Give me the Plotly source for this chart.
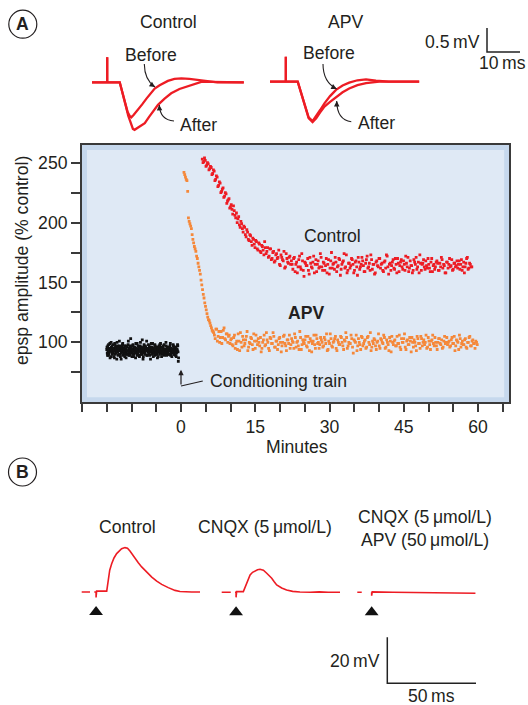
import plotly.graph_objects as go

W, H = 528, 705
FONT = "Liberation Sans, Arial, Helvetica, sans-serif"
FS = 17.6
TXT = "#231f20"
RED = "#ed1c24"
ORANGE = "#f5883a"

# ---------------- DATA ----------------
# Panel A (bottom): epsp amplitude (% control) vs. time (minutes); two interleaved sweep sets
baseline_t0, baseline_dt = -15.0, 0.104
baseline_vals = [
    94, 91, 97, 89, 95, 92, 99, 93, 88, 96, 94, 90, 98, 92, 95, 87, 93, 97, 91, 94,
    100, 92, 89, 95, 93, 97, 90, 94, 86, 96, 92, 99, 93, 91, 95, 88, 94, 97, 92, 90,
    96, 93, 101, 89, 94, 91, 97, 93, 95, 88, 92, 98, 94, 90, 96, 93, 87, 95, 92, 99,
    91, 94, 96, 89, 93, 97, 92, 95, 90, 102, 93, 88, 96, 94, 91, 97, 93, 95, 89, 94,
    92, 98, 90, 95, 93, 86, 96, 92, 94, 99, 91, 95, 93, 89, 97, 92, 94, 90, 96, 93,
    88, 95, 92, 98, 94, 91, 96, 93, 90, 95, 97, 92, 89, 94, 93, 100, 91, 95, 92, 96,
    90, 94, 93, 97, 89, 95, 92, 94, 91, 98, 93, 90, 96, 92, 95, 88, 94, 93, 97, 84,
]
baseline_t0_b = -14.95
baseline_vals_b = [
    96, 89, 93, 98, 90, 95, 87, 94, 100, 92, 97, 91, 95, 88, 93, 99, 90, 96, 94, 86,
    92, 97, 95, 90, 101, 93, 88, 96, 91, 94, 98, 89, 95, 92, 97, 90, 94, 87, 96, 93,
    90, 98, 92, 95, 89, 96, 103, 91, 94, 97, 90, 93, 88, 96, 92, 95, 99, 91, 94, 89,
    97, 92, 95, 88, 93, 100, 90, 96, 94, 91, 86, 95, 98, 92, 90, 96, 93, 101, 89, 94,
    95, 91, 97, 89, 94, 92, 99, 90, 96, 93, 88, 95, 91, 98, 94, 90, 96, 92, 87, 95,
    93, 97, 90, 94, 99, 92, 88, 96, 91, 95, 93, 98, 90, 94, 92, 97, 89, 95, 91, 94,
    96, 90, 93, 99, 91, 95, 88, 94, 92, 97, 90, 95, 93, 89, 96, 91, 94, 98, 92, 87,
]
control_t0, control_dt = 4.3, 0.3
control_vals = [
    253, 251, 252, 248, 249, 245, 246, 241, 243, 236, 238, 231, 233, 226, 229, 222, 224, 218, 220, 213,
    211, 214, 206, 208, 203, 198, 201, 195, 197, 190, 194, 186, 190, 184, 187, 182, 185, 178, 183, 176,
    181, 177, 184, 174, 179, 172, 178, 170, 176, 168, 174, 171, 165, 173, 169, 176, 163, 170, 166, 172,
    168, 161, 171, 165, 158, 169, 163, 174, 160, 167, 164, 170, 157, 166, 162, 172, 165, 159, 168, 163,
    171, 160, 166, 164, 158, 169, 162, 175, 165, 161, 167, 163, 170, 156, 165, 168, 162, 173, 160, 166,
    164, 169, 158, 167, 163, 171, 161, 165, 168, 159, 166, 172, 163, 160, 169, 165, 157, 167, 164, 170,
    162, 166, 159, 168, 173, 163, 165, 160, 167, 162, 170, 158, 166, 164, 169, 161, 165, 172, 163, 159,
    168, 164, 160, 167, 171, 163, 158, 166, 165, 169, 161, 164, 170, 162, 167, 159, 165, 163, 168, 160,
    166, 171, 162, 164, 158, 167, 165, 163, 169, 161, 166, 164, 162, 168, 165, 160, 167, 163, 170, 161,
    166, 163,
]
control_t0_b = 4.45
control_vals_b = [
    250, 254, 247, 250, 244, 247, 240, 244, 235, 239, 230, 234, 225, 228, 221, 225, 216, 219, 212, 215,
    207, 210, 204, 200, 205, 196, 199, 192, 196, 188, 192, 185, 189, 181, 186, 179, 184, 177, 182, 175,
    180, 173, 179, 176, 171, 178, 169, 175, 167, 173, 170, 177, 164, 171, 168, 162, 174, 167, 171, 165,
    165, 170, 159, 167, 163, 172, 161, 168, 155, 166, 164, 160, 171, 163, 167, 158, 169, 165, 162, 174,
    163, 167, 160, 170, 165, 157, 168, 162, 166, 171, 159, 164, 169, 161, 167, 174, 163, 158, 166, 162,
    170, 165, 160, 168, 156, 167, 163, 171, 164, 159, 169, 162, 166, 173, 161, 165, 158, 168, 163, 170,
    165, 160, 167, 162, 172, 157, 166, 164, 169, 161, 165, 170, 159, 167, 163, 168, 160, 166, 171, 162,
    164, 158, 169, 165, 161, 167, 173, 160, 166, 163, 168, 162, 165, 159, 170, 164, 161, 167, 166, 160,
    163, 169, 165, 158, 167, 162, 170, 164, 160, 166, 163, 168, 165, 161, 169, 163, 158, 166, 171, 162,
    165, 163,
]
apv_t0, apv_dt = 0.6, 0.3
apv_vals = [
    242, 238, 235, 204, 199, 195, 186, 180, 176, 170, 163, 157, 148, 140, 133, 127, 121, 118, 114, 110,
    108, 103, 111, 105, 100, 109, 104, 112, 102, 107, 105, 99,
    103, 97, 106, 99, 94, 101, 108, 96, 102, 99, 105, 93, 100, 104, 98, 107, 95, 101, 103, 97,
    92, 100, 106, 98, 102, 95, 104, 99, 108, 96, 101, 94, 103, 100, 97, 105, 99, 93, 102, 106,
    98, 101, 95, 104, 100, 97, 109, 94, 102, 99, 105, 96, 100, 103, 92, 101, 98, 106, 99, 95,
    104, 100, 97, 102, 107, 94, 99, 103, 96, 101, 105, 93, 100, 98, 104, 97, 102, 108, 95, 100,
    99, 103, 91, 101, 106, 97, 100, 94, 104, 99, 102, 96, 105, 98, 93, 101, 103, 97, 100, 107,
    95, 102, 99, 104, 96, 100, 93, 101, 105, 98, 102, 97, 99, 106, 94, 100, 103, 96, 101, 98,
    104, 92, 100, 102, 97, 105, 99, 95, 103, 100, 98, 106, 96, 101, 94, 102, 99, 104, 97, 100,
    103, 98, 95, 101, 99, 104,
    100, 96, 102, 99, 105, 97, 101, 94, 103, 99, 98, 102, 96, 100, 104, 97, 101, 99, 95, 100,
]
apv_t0_b = 0.75
apv_vals_b = [
    240, 236, 226, 201, 197, 190, 183, 178, 172, 166, 160, 152, 144, 137, 130, 124, 119, 116, 112, 109,
    106, 111, 101, 109, 104, 99, 110, 103, 107, 100, 106, 102,
    98, 104, 95, 101, 107, 93, 100, 105, 97, 102, 109, 96, 99, 103, 94, 101, 106, 98, 100, 104,
    95, 102, 97, 108, 100, 93, 103, 99, 105, 96, 101, 98, 104, 92, 100, 106, 97, 102, 99, 95,
    103, 100, 107, 96, 101, 94, 104, 98, 100, 102, 97, 105, 93, 101, 99, 106, 95, 103, 100, 98,
    102, 96, 104, 99, 93, 101, 107, 97, 100, 103, 95, 102, 98, 105, 100, 94, 101, 104, 97, 99,
    106, 96, 102, 100, 93, 103, 98, 105, 97, 101, 95, 104, 100, 108, 96, 99, 102, 94, 101, 97,
    103, 100, 106, 95, 102, 98, 104, 92, 100, 101, 97, 105, 99, 96, 103, 100, 107, 94, 102, 98,
    101, 104, 96, 100, 93, 103, 99, 105, 97, 102, 100, 95, 104, 98, 101, 106, 97, 100, 94, 103,
    99, 102, 96, 105, 100, 98,
    101, 97, 104, 99, 93, 102, 100, 106, 96, 101, 98, 103, 95, 100, 105, 97, 102, 99, 101, 98,
]
main_xticks = list(range(-20, 70, 5))
main_xlabels = ["0", "15", "30", "45", "60"]
main_yticks = [75, 100, 125, 150, 175, 200, 225, 250]
main_ylabels = ["100", "150", "200", "250"]
conditioning_t = 0

# Panel A (top): field epsp traces (ms, mV)
ctrl_before_t = [0, 4.6, 4.6, 4.6, 8.4, 9.2, 10.0, 10.8, 11.4, 11.9, 12.6, 13.9, 15.2, 16.5, 17.8,
                 19.0, 20.5, 22.0, 23.0, 25.0, 27.1, 29.5, 32.1, 35, 38, 46]
ctrl_before_v = [0, 0, 0.52, 0, 0, -0.2, -0.45, -0.62, -0.70, -0.73, -0.68, -0.58, -0.46, -0.34, -0.22,
                 -0.13, -0.06, 0.0, 0.03, 0.07, 0.08, 0.07, 0.05, 0.02, 0.0, 0.0]
ctrl_after_t = [0, 4.6, 4.6, 4.6, 8.4, 9.3, 10.2, 11.0, 11.8, 12.4, 12.9, 13.6, 14.8, 16.0, 17.3,
                18.6, 20.0, 22.0, 24.0, 26.5, 29.1, 31.0, 33.1, 36, 40, 46]
ctrl_after_v = [0, 0, 0.52, 0, 0, -0.22, -0.48, -0.70, -0.88, -0.97, -0.99, -0.96, -0.91, -0.85, -0.72,
                -0.60, -0.47, -0.34, -0.23, -0.14, -0.08, -0.03, 0.01, 0.01, 0, 0]
apv_before_t = [0, 4.8, 4.8, 4.8, 8.4, 9.5, 10.6, 11.7, 12.9, 14.0, 15.2, 16.5, 18.2, 20.0, 22.0,
                24.0, 26.5, 29.1, 32.1, 36, 45.2]
apv_before_v = [0, 0, 0.52, 0, 0, -0.25, -0.52, -0.74, -0.82, -0.72, -0.59, -0.45, -0.30, -0.17, -0.08,
                -0.02, 0.03, 0.05, 0.02, 0.0, 0.0]
apv_after_t = [0, 4.8, 4.8, 4.8, 8.4, 9.5, 10.6, 11.7, 12.9, 14.0, 15.2, 16.5, 18.2, 20.0, 22.0,
               24.0, 26.5, 29.1, 33.1, 45.2]
apv_after_v = [0, 0, 0.52, 0, 0, -0.25, -0.53, -0.76, -0.84, -0.76, -0.64, -0.52, -0.42, -0.33, -0.22,
               -0.14, -0.07, -0.03, 0.0, 0.0]
scaleA_ms, scaleA_mv = 10, 0.5

# Panel B: EPSPs (ms, mV)
b_ctrl_t = [0, 4.7, None, 7.1, 8.1, 8.1, 8.4, 14.1, 15.0, 15.8, 16.9, 18.2, 19.7, 21.0, 22.5, 24.4,
            25.8, 27.2, 28.6, 30.0, 31.9, 33.8, 36.6, 39.5, 42.3, 45.1, 48.8, 52.6, 55.4, 58.2, 62, 66.7]
b_ctrl_v = [0, 0, None, 0, 0, -2.4, 0.4, 0.4, 5.8, 9.5, 12.3, 14.8, 16.7, 17.9, 18.8, 19.3,
            19.0, 17.8, 16.2, 14.5, 12.7, 10.9, 8.6, 6.5, 4.7, 3.3, 1.9, 0.7, 0.2, 0, 0, 0]
b_cnqx_t = [0, 5.1, None, 7.5, 8.1, 8.1, 8.4, 12.2, 14.1, 16.0, 17.4, 18.8, 20.2, 21.6, 23.5, 25.4,
            26.8, 28.2, 29.6, 31.0, 33.8, 36.6, 40, 44.1, 50, 55, 60, 66.7]
b_cnqx_v = [0, 0, None, 0, 0, -2.2, 0.3, 0.3, 3.9, 7.5, 8.7, 9.3, 9.8, 10.0, 9.6, 8.3,
            7.3, 6.1, 4.6, 3.2, 1.9, 1.0, 0.4, 0.1, 0, 0.2, 0, 0]
b_both_t = [0, 2.5, None, 8.1, 8.1, 8.4, 20, 35, 50, 66.6]
b_both_v = [0, 0, None, 0, -1.5, 0.2, 0, -0.2, -0.3, -0.4]
stim_t = 8.1
stim_v = -8.7
scaleB_ms, scaleB_mv = 50, 20


# ---------------- helpers (pixel geometry -> paper domains) ----------------
def xdom(px0, s, r0, r1):
    return [(px0 + r0 * s) / W, (px0 + r1 * s) / W]


def ydom(py0, s, r0, r1):
    return [1 - (py0 - r0 * s) / H, 1 - (py0 - r1 * s) / H]


def P(x, y):
    return x / W, 1 - y / H


fig = go.Figure()
layout = dict(
    width=W, height=H, margin=dict(l=0, r=0, t=0, b=0),
    paper_bgcolor="white", plot_bgcolor="rgba(0,0,0,0)", showlegend=False,
    font=dict(family=FONT, size=FS, color=TXT),
)

hidden = dict(visible=False, showgrid=False, zeroline=False, fixedrange=True)

# ---- main scatter axes (x, y) ----
MX0, MXS = 181.0, 4.95           # px of t=0, px per minute
MY0, MYS = 462.03, 1.1973        # px of value 0, px per %
xr = [-20, 66.3]
yr = [50, 264.8]
layout["xaxis"] = dict(
    domain=xdom(MX0, MXS, *xr), range=xr, anchor="y", fixedrange=True,
    showline=True, mirror=True, linecolor="#3a3a3a", linewidth=2,
    ticks="outside", ticklen=8, tickwidth=1.5, tickcolor="#3a3a3a",
    tickvals=main_xticks,
    ticktext=[(str(v) if str(v) in main_xlabels else "") for v in main_xticks],
    tickfont=dict(size=FS, color=TXT), showgrid=False, zeroline=False,
)
layout["yaxis"] = dict(
    domain=ydom(MY0, MYS, *yr), range=yr, anchor="x", fixedrange=True,
    showline=True, mirror=True, linecolor="#3a3a3a", linewidth=2,
    ticks="outside", ticklen=9, tickwidth=1.5, tickcolor="#3a3a3a",
    tickvals=main_yticks,
    ticktext=[(str(v) if str(v) in main_ylabels else "") for v in main_yticks],
    tickfont=dict(size=FS, color=TXT), showgrid=False, zeroline=False,
)


def times(t0, dt, vals):
    return [round(t0 + i * dt, 3) for i in range(len(vals))]


MS = 2.8
for t0, dt, vals, col in [(baseline_t0, baseline_dt, baseline_vals, "#111111"),
                          (baseline_t0_b, baseline_dt, baseline_vals_b, "#111111"),
                          (apv_t0, apv_dt, apv_vals, ORANGE),
                          (apv_t0_b, apv_dt, apv_vals_b, ORANGE),
                          (control_t0, control_dt, control_vals, RED),
                          (control_t0_b, control_dt, control_vals_b, RED)]:
    fig.add_trace(go.Scatter(x=times(t0, dt, vals), y=vals, mode="markers",
                             marker=dict(size=MS, color=col, symbol="square", line=dict(width=0)),
                             xaxis="x", yaxis="y"))

shapes = []
# panel background: blue band + lighter interior
shapes.append(dict(type="rect", xref="x domain", yref="y domain", x0=0, x1=1, y0=0, y1=1,
                   fillcolor="#c6d8ed", line=dict(width=0), layer="below"))
inx = 5 / ((xr[1] - xr[0]) * MXS)
iny = 5 / ((yr[1] - yr[0]) * MYS)
shapes.append(dict(type="rect", xref="x domain", yref="y domain",
                   x0=inx, x1=1 - inx, y0=iny, y1=1 - iny,
                   fillcolor="#dfe9f5", line=dict(width=0), layer="below"))

# ---- top traces: Control (x2,y2), APV (x3,y3), scale (x4,y4) ----
AS_X, AS_Y = 3.3, 48.0   # px per ms, px per mV
layout["xaxis2"] = dict(hidden, domain=xdom(92, AS_X, -1, 47), range=[-1, 47], anchor="y2")
layout["yaxis2"] = dict(hidden, domain=ydom(82.3, AS_Y, -1.25, 0.7), range=[-1.25, 0.7], anchor="x2")
layout["xaxis3"] = dict(hidden, domain=xdom(270, AS_X, -1, 46), range=[-1, 46], anchor="y3")
layout["yaxis3"] = dict(hidden, domain=ydom(81.7, AS_Y, -1.25, 0.7), range=[-1.25, 0.7], anchor="x3")
layout["xaxis4"] = dict(hidden, domain=xdom(487, AS_X, -1, 11), range=[-1, 11], anchor="y4")
layout["yaxis4"] = dict(hidden, domain=ydom(52, AS_Y, -0.1, 0.6), range=[-0.1, 0.6], anchor="x4")

for tt, vv, ax in [(ctrl_before_t, ctrl_before_v, "2"), (ctrl_after_t, ctrl_after_v, "2"),
                   (apv_before_t, apv_before_v, "3"), (apv_after_t, apv_after_v, "3")]:
    fig.add_trace(go.Scatter(x=tt, y=vv, mode="lines", line=dict(color=RED, width=2.3),
                             xaxis="x" + ax, yaxis="y" + ax))
fig.add_trace(go.Scatter(x=[0, 0, scaleA_ms], y=[scaleA_mv, 0, 0], mode="lines",
                         line=dict(color="#222", width=1.5), xaxis="x4", yaxis="y4"))

# ---- panel B traces ----
BS_X, BS_Y = 1.774, 2.3
brx = [-1, 68]
bry = [-12, 22]
for i, (px0, py0) in enumerate([(81.7, 592), (221.7, 592.3), (357.3, 592.3)]):
    n = str(5 + i)
    layout["xaxis" + n] = dict(hidden, domain=xdom(px0, BS_X, *brx), range=brx, anchor="y" + n)
    layout["yaxis" + n] = dict(hidden, domain=ydom(py0, BS_Y, *bry), range=bry, anchor="x" + n)
layout["xaxis8"] = dict(hidden, domain=xdom(387.3, BS_X, -3, 55), range=[-3, 55], anchor="y8")
layout["yaxis8"] = dict(hidden, domain=ydom(683.3, BS_Y, -3, 23), range=[-3, 23], anchor="x8")

for tt, vv, n in [(b_ctrl_t, b_ctrl_v, "5"), (b_cnqx_t, b_cnqx_v, "6"), (b_both_t, b_both_v, "7")]:
    fig.add_trace(go.Scatter(x=tt, y=vv, mode="lines", line=dict(color=RED, width=1.6),
                             connectgaps=False, xaxis="x" + n, yaxis="y" + n))
    fig.add_trace(go.Scatter(x=[stim_t], y=[stim_v], mode="markers",
                             marker=dict(symbol="triangle-up", size=12, color="#111"),
                             xaxis="x" + n, yaxis="y" + n))
fig.add_trace(go.Scatter(x=[0, 0, scaleB_ms], y=[scaleB_mv, 0, 0], mode="lines",
                         line=dict(color="#222", width=1.5), xaxis="x8", yaxis="y8"))

# ---------------- annotations ----------------
ann = []


def text(x, y, s, size=FS, xanchor="center", bold=False, yanchor="middle"):
    px, py = P(x, y)
    ann.append(dict(x=px, y=py, xref="paper", yref="paper", text=(f"<b>{s}</b>" if bold else s),
                    showarrow=False, xanchor=xanchor, yanchor=yanchor,
                    font=dict(family=FONT, size=size, color=TXT)))


text(168, 21.7, "Control")
text(345, 21.7, "APV")
text(151, 55, "Before")
text(198.7, 125, "After")
text(329, 53.3, "Before")
text(376, 123.3, "After")
text(482.3, 41.7, "0.5\u2009mV", xanchor="right")
text(502, 63.3, "10\u2009ms")
text(332, 236, "Control")
text(306, 313, "APV", bold=True)
text(208, 381, "Conditioning train", xanchor="left")
text(297, 447, "Minutes")
text(127, 526.7, "Control")
text(265, 526.7, "CNQX (5\u2009\u03bcmol/L)")
text(425, 516.7, "CNQX (5\u2009\u03bcmol/L)")
text(425, 540, "APV (50\u2009\u03bcmol/L)")
text(381.7, 661, "20\u2009mV", xanchor="right")
text(431.7, 695.5, "50\u2009ms")
text(22.8, 24.2, "A", bold=True)
text(22.5, 472, "B", bold=True)

# y-axis title
px, py = P(22, 261)
ann.append(dict(x=px, y=py, xref="paper", yref="paper", text="epsp amplitude (% control)",
                textangle=-90, showarrow=False, xanchor="center", yanchor="middle",
                font=dict(family=FONT, size=FS, color=TXT)))

# conditioning train arrow (data coordinates of the main axes)
ann.append(dict(x=conditioning_t, y=77, xref="x", yref="y", ax=conditioning_t, ay=63.5,
                axref="x", ayref="y", text="", showarrow=True, arrowhead=2, arrowsize=0.9,
                arrowwidth=1.2, arrowcolor=TXT))
shapes.append(dict(type="line", xref="x", yref="y", x0=conditioning_t, y0=63.5, x1=4.4, y1=67.7,
                   line=dict(color=TXT, width=1.2)))


# curved label arrows (pixel geometry)
def curved_arrow(x0, y0, cx, cy, x1, y1):
    a, b = P(x0, y0)
    c, d = P(cx, cy)
    e, f = P(x1, y1)
    shapes.append(dict(type="path", xref="paper", yref="paper",
                       path=f"M {a},{b} Q {c},{d} {e},{f}", line=dict(color=TXT, width=1.1)))
    dx, dy = x1 - cx, y1 - cy
    L = (dx * dx + dy * dy) ** 0.5
    ann.append(dict(x=e, y=f, xref="paper", yref="paper", ax=-dx / L * 5, ay=-dy / L * 5,
                    text="", showarrow=True, arrowhead=2, arrowsize=1, arrowwidth=1.1,
                    arrowcolor=TXT))


curved_arrow(144.3, 64, 144.5, 80, 155, 87)
curved_arrow(174, 121, 160, 120, 159.3, 105)
curved_arrow(323, 64, 323, 82, 336.7, 89)
curved_arrow(351.3, 121.7, 337, 120, 336.7, 101)

# circled panel letters
for cx, cy in [(22.8, 24.2), (22.5, 472)]:
    a, b = P(cx - 14, cy - 14)
    c, d = P(cx + 14, cy + 14)
    shapes.append(dict(type="circle", xref="paper", yref="paper", x0=a, y0=d, x1=c, y1=b,
                       line=dict(color=TXT, width=1.2)))

layout["annotations"] = ann
layout["shapes"] = shapes
fig.update_layout(**layout)
fig.write_html("out.html", config={"displayModeBar": False, "staticPlot": False},
               post_script="document.body.style.margin='0';document.body.style.padding='0';")
